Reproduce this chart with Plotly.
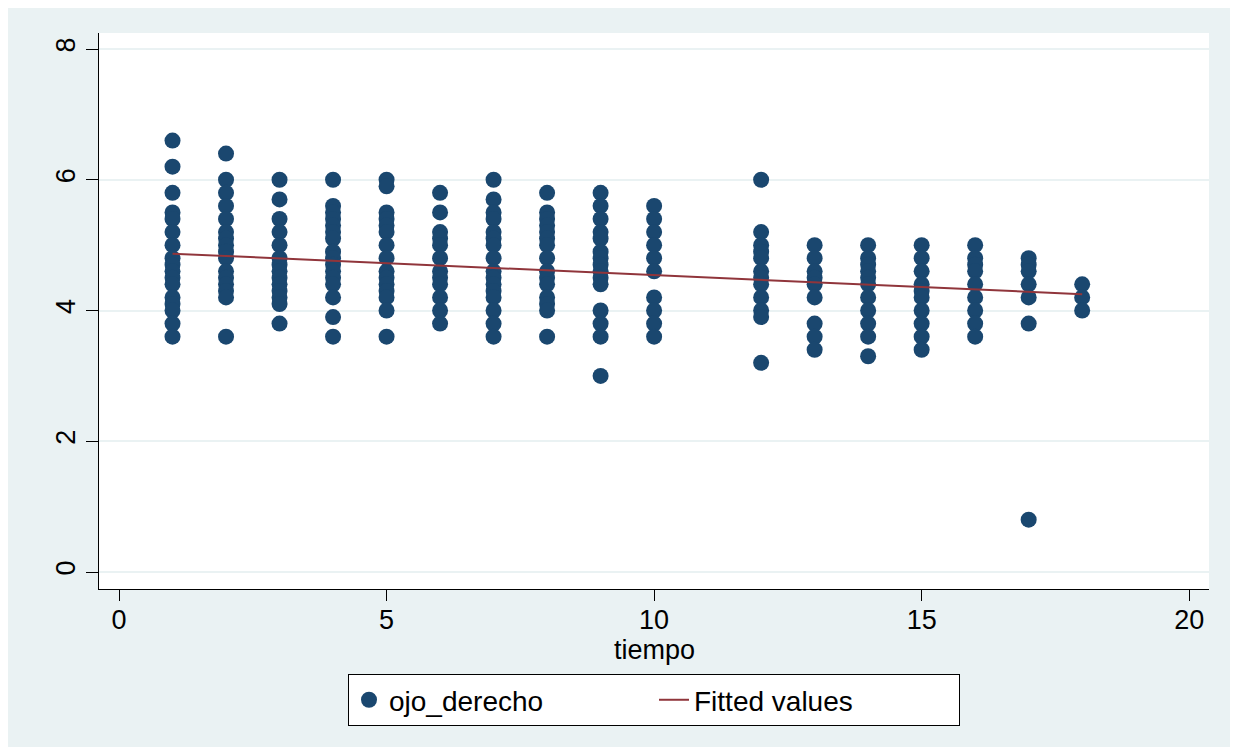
import plotly.graph_objects as go

# Data (tiempo, ojo_derecho)
t1 = [6.6, 6.2, 5.8, 5.5, 5.4, 5.2, 5.0, 4.8, 4.7, 4.6, 4.5, 4.4, 4.2, 4.1, 4.0, 3.8, 3.6]
t2 = [6.4, 6.0, 5.8, 5.6, 5.4, 5.2, 5.1, 5.0, 4.9, 4.8, 4.6, 4.5, 4.4, 4.3, 4.2, 3.6]
t3 = [6.0, 5.7, 5.4, 5.2, 5.0, 4.8, 4.7, 4.6, 4.5, 4.4, 4.3, 4.2, 4.1, 3.8]
t4 = [6.0, 5.6, 5.5, 5.4, 5.3, 5.2, 5.1, 4.9, 4.8, 4.7, 4.6, 4.5, 4.4, 4.2, 3.9, 3.6]
t5 = [6.0, 5.9, 5.5, 5.4, 5.3, 5.2, 5.0, 4.8, 4.6, 4.5, 4.4, 4.3, 4.2, 4.0, 3.6]
t6 = [5.8, 5.5, 5.2, 5.1, 5.0, 4.8, 4.6, 4.5, 4.4, 4.2, 4.0, 3.8]
t7 = [6.0, 5.7, 5.5, 5.4, 5.2, 5.1, 5.0, 4.8, 4.6, 4.5, 4.4, 4.3, 4.2, 4.0, 3.8, 3.6]
t8 = [5.8, 5.5, 5.4, 5.3, 5.2, 5.1, 5.0, 4.8, 4.6, 4.5, 4.4, 4.2, 4.1, 4.0, 3.6]
t9 = [5.8, 5.6, 5.4, 5.2, 5.1, 4.9, 4.8, 4.7, 4.6, 4.5, 4.4, 4.0, 3.8, 3.6, 3.0]
t10 = [5.6, 5.4, 5.2, 5.0, 4.8, 4.6, 4.2, 4.0, 3.8, 3.6]
t12 = [6.0, 5.2, 5.0, 4.9, 4.8, 4.6, 4.5, 4.4, 4.2, 4.0, 3.9, 3.2]
t13 = [5.0, 4.8, 4.6, 4.5, 4.4, 4.2, 3.8, 3.6, 3.4]
t14 = [5.0, 4.8, 4.7, 4.6, 4.5, 4.4, 4.2, 4.0, 3.8, 3.6, 3.3]
t15 = [5.0, 4.8, 4.6, 4.4, 4.3, 4.2, 4.0, 3.8, 3.6, 3.4]
t16 = [5.0, 4.8, 4.7, 4.6, 4.4, 4.2, 4.0, 3.8, 3.6]
t17 = [4.8, 4.7, 4.6, 4.4, 4.2, 3.8, 0.8]
t18 = [4.4, 4.2, 4.0]

tiempo_levels = [1, 2, 3, 4, 5, 6, 7, 8, 9, 10, 12, 13, 14, 15, 16, 17, 18]
columns = [t1, t2, t3, t4, t5, t6, t7, t8, t9, t10, t12, t13, t14, t15, t16, t17, t18]

fit_x = [1, 18]
fit_y = [4.87, 4.25]

x_ticks = [0, 5, 10, 15, 20]
y_ticks = [0, 2, 4, 6, 8]
x_title = "tiempo"

tiempo = []
ojo_derecho = []
for lev, vals in zip(tiempo_levels, columns):
    for v in vals:
        tiempo.append(lev)
        ojo_derecho.append(v)

BG = "#EAF2F3"
NAVY = "#1A476F"
RED = "#90353B"
FONT = "Liberation Sans, Arial, sans-serif"

fig = go.Figure()
fig.add_trace(go.Scatter(
    x=tiempo, y=ojo_derecho, mode="markers", name="ojo_derecho",
    marker=dict(color=NAVY, size=16, line=dict(width=0)),
))
fig.add_trace(go.Scatter(
    x=fit_x, y=fit_y, mode="lines", name="Fitted values",
    line=dict(color=RED, width=2),
))

fig.add_annotation(
    text=x_title, xref="paper", yref="paper", x=0.5, y=-0.110,
    xanchor="center", yanchor="middle", showarrow=False,
    font=dict(size=27, family=FONT, color="black"),
)

fig.update_layout(
    paper_bgcolor=BG, plot_bgcolor="white",
    margin=dict(l=91, r=21, t=25, b=158),
    font=dict(family=FONT, size=27, color="black"),
    showlegend=True,
    legend=dict(
        orientation="h", x=0.5, xanchor="center", y=-0.153, yanchor="top",
        bgcolor="white", bordercolor="black", borderwidth=1,
        font=dict(size=28), entrywidth=260, entrywidthmode="pixels",
    ),
    xaxis=dict(
        range=[-0.374, 20.37], tickvals=x_ticks, ticks="outside", ticklen=11,
        tickwidth=1, tickcolor="black", showline=True, linecolor="black", linewidth=1,
        showgrid=False, zeroline=False, ticklabelstandoff=-4,
        tickfont=dict(size=27),
    ),
    yaxis=dict(
        range=[-0.26, 8.245], tickvals=y_ticks, ticks="outside", ticklen=12,
        tickwidth=1, tickcolor="black", showline=True, linecolor="black", linewidth=1,
        showgrid=True, gridcolor=BG, gridwidth=2, zeroline=False,
        tickangle=-90, tickfont=dict(size=27),
    ),
)

fig.write_html("out.html")
